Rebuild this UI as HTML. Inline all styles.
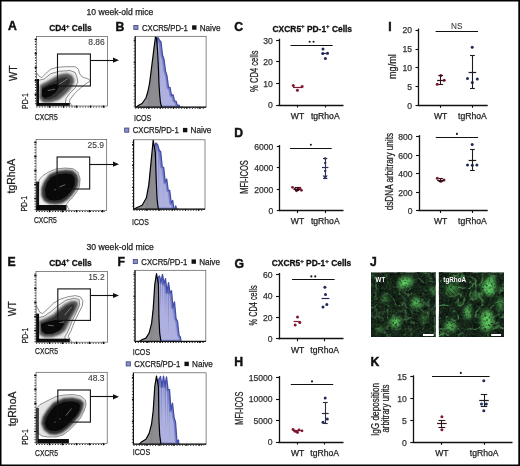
<!DOCTYPE html>
<html><head><meta charset="utf-8"><style>
html,body{margin:0;padding:0;background:#fff;width:520px;height:466px;overflow:hidden;}
svg text{font-family:"Liberation Sans", sans-serif;}
svg{will-change:transform}
</style></head><body>
<svg width="520" height="466" viewBox="0 0 520 466" style="display:block" font-family='"Liberation Sans", sans-serif'>
<defs>
<filter id="blur1" color-interpolation-filters="sRGB" x="-20%" y="-20%" width="140%" height="140%"><feGaussianBlur stdDeviation="0.6"/></filter>
<filter id="blur2" color-interpolation-filters="sRGB" x="-20%" y="-20%" width="140%" height="140%"><feGaussianBlur stdDeviation="1.0"/></filter>
<filter id="noiseG" color-interpolation-filters="sRGB" x="0" y="0" width="100%" height="100%">
 <feTurbulence type="fractalNoise" baseFrequency="0.18" numOctaves="3" seed="7" result="n"/>
 <feColorMatrix in="n" type="matrix" values="0 0 0 0 0.25  0 0 0 0 0.78  0 0 0 0 0.25  2.6 0 0 0 -1.05"/>
</filter>
<filter id="noiseG2" color-interpolation-filters="sRGB" x="0" y="0" width="100%" height="100%">
 <feTurbulence type="fractalNoise" baseFrequency="0.18" numOctaves="3" seed="19" result="n"/>
 <feColorMatrix in="n" type="matrix" values="0 0 0 0 0.25  0 0 0 0 0.78  0 0 0 0 0.25  2.6 0 0 0 -1.05"/>
</filter>
<radialGradient id="gpatch"><stop offset="0" stop-color="#4fc44f" stop-opacity="0.75"/><stop offset="1" stop-color="#3a9a3a" stop-opacity="0"/></radialGradient>
</defs>
<rect x="0" y="0" width="520" height="466" fill="#fff"/>
<text x="86.5" y="15.2" font-size="8.6" text-anchor="start" fill="#222" textLength="66.8" lengthAdjust="spacingAndGlyphs"  stroke="#222" stroke-width="0.25">10 week-old mice</text>
<text x="86.5" y="250.3" font-size="8.6" text-anchor="start" fill="#222" textLength="67.3" lengthAdjust="spacingAndGlyphs"  stroke="#222" stroke-width="0.25">30 week-old mice</text>
<text x="7.9" y="30.3" font-size="12.2" text-anchor="start" fill="#111" font-weight="bold" stroke="#111" stroke-width="0.45">A</text>
<text x="115.6" y="30.5" font-size="12.2" text-anchor="start" fill="#111" font-weight="bold" stroke="#111" stroke-width="0.45">B</text>
<text x="234.3" y="30.6" font-size="12.2" text-anchor="start" fill="#111" font-weight="bold" stroke="#111" stroke-width="0.45">C</text>
<text x="234.2" y="136.6" font-size="12.2" text-anchor="start" fill="#111" font-weight="bold" stroke="#111" stroke-width="0.45">D</text>
<text x="388.2" y="30.6" font-size="12.2" text-anchor="start" fill="#111" font-weight="bold" stroke="#111" stroke-width="0.45">I</text>
<text x="7.5" y="265.5" font-size="12.2" text-anchor="start" fill="#111" font-weight="bold" stroke="#111" stroke-width="0.45">E</text>
<text x="117.5" y="265.5" font-size="12.2" text-anchor="start" fill="#111" font-weight="bold" stroke="#111" stroke-width="0.45">F</text>
<text x="234.5" y="267.7" font-size="12.2" text-anchor="start" fill="#111" font-weight="bold" stroke="#111" stroke-width="0.45">G</text>
<text x="370.0" y="265.7" font-size="12.2" text-anchor="start" fill="#111" font-weight="bold" stroke="#111" stroke-width="0.45">J</text>
<text x="234.2" y="365.6" font-size="12.2" text-anchor="start" fill="#111" font-weight="bold" stroke="#111" stroke-width="0.45">H</text>
<text x="370.6" y="365.6" font-size="12.2" text-anchor="start" fill="#111" font-weight="bold" stroke="#111" stroke-width="0.45">K</text>
<clipPath id="clip3636"><rect x="36.4" y="36.4" width="71.1" height="69.6"/></clipPath>
<g clip-path="url(#clip3636)">
<polygon points="36.4,72.5 39.2,76.3 41.7,77.6 45.6,73.7 50.7,69.2 57.2,67.3 66.2,66.7 75.2,66.7 78.4,69.2 79.7,73.7 82.3,77.0 88.1,78.9 90.6,80.8 85.5,84.0 79.1,89.2 73.9,94.4 70.0,99.5 69.4,102.0 72.6,106.5 36.4,106.5" fill="#000" fill-opacity="0.02" stroke="#333" stroke-width="0.55" stroke-linejoin="round"/>
<polygon points="36.4,80.0 39.2,80.2 44.3,78.9 50.7,73.7 59.7,71.2 70.0,70.5 75.2,72.5 77.1,77.6 77.8,82.1 75.2,87.9 70.0,93.1 66.2,98.2 65.5,102.0 66.0,106.5 36.4,106.5" fill="#000" fill-opacity="0.05" stroke="#333" stroke-width="0.55" stroke-linejoin="round"/>
<polygon points="40.4,85.3 46.9,82.1 54.6,77.6 61.0,74.4 67.5,73.7 72.0,75.7 73.9,80.2 72.6,85.3 68.8,90.5 63.6,95.6 58.5,99.5 50.7,102.1 43.0,102.1 39.8,98.2" fill="#000" fill-opacity="0.65" stroke="#222" stroke-width="0.6" stroke-linejoin="round" filter="url(#blur2)"/>
<polygon points="42.0,87.0 48.0,84.0 55.0,80.5 62.0,77.5 67.0,77.0 70.0,79.0 70.0,83.0 66.0,88.0 61.0,93.0 56.0,97.0 50.0,99.5 44.0,99.5 41.5,96.0" fill="#000" fill-opacity="0.45" stroke="#555" stroke-width="0.4" stroke-linejoin="round" filter="url(#blur1)"/>
<polygon points="42.0,89.0 48.0,86.0 54.0,84.0 58.0,84.0 59.0,87.0 56.0,92.0 51.0,96.0 45.0,98.0 42.0,96.0" fill="#000" fill-opacity="0.8" filter="url(#blur1)"/>
<line x1="48.2" y1="90.5" x2="54.6" y2="89.2" stroke="#ccc" stroke-width="0.8" stroke-opacity="0.6" stroke-linecap="round"/>
<line x1="59.7" y1="84" x2="67.5" y2="78.9" stroke="#ccc" stroke-width="0.8" stroke-opacity="0.6" stroke-linecap="round"/>
<rect x="35.8" y="103" width="34" height="3.4" fill="#000" fill-opacity="0.95" filter="url(#blur1)"/>
<rect x="35.4" y="79" width="3.6" height="27" fill="#000" fill-opacity="0.95" filter="url(#blur1)"/>
</g>
<rect x="36.4" y="36.4" width="71.1" height="69.6" fill="none" stroke="#555" stroke-width="0.7"/>
<line x1="35.5" y1="38.4" x2="35.5" y2="106" stroke="#222" stroke-width="1.1" stroke-dasharray="1.1 1.6"/>
<line x1="36.4" y1="107.0" x2="105.5" y2="107.0" stroke="#222" stroke-width="1.1" stroke-dasharray="1.1 1.6"/>
<line x1="34.6" y1="94.5" x2="36.9" y2="94.5" stroke="#111" stroke-width="1.3"/>
<line x1="34.6" y1="80.5" x2="36.9" y2="80.5" stroke="#111" stroke-width="1.3"/>
<line x1="34.6" y1="67.5" x2="36.9" y2="67.5" stroke="#111" stroke-width="1.3"/>
<line x1="34.6" y1="53.5" x2="36.9" y2="53.5" stroke="#111" stroke-width="1.3"/>
<line x1="34.6" y1="39.5" x2="36.9" y2="39.5" stroke="#111" stroke-width="1.3"/>
<line x1="49.5" y1="105.5" x2="49.5" y2="107.8" stroke="#111" stroke-width="1.3"/>
<line x1="63.5" y1="105.5" x2="63.5" y2="107.8" stroke="#111" stroke-width="1.3"/>
<line x1="76.5" y1="105.5" x2="76.5" y2="107.8" stroke="#111" stroke-width="1.3"/>
<line x1="90.5" y1="105.5" x2="90.5" y2="107.8" stroke="#111" stroke-width="1.3"/>
<line x1="103.5" y1="105.5" x2="103.5" y2="107.8" stroke="#111" stroke-width="1.3"/>
<rect x="57.5" y="54" width="32.900000000000006" height="32" fill="none" stroke="#111" stroke-width="1.1"/>
<line x1="90.4" y1="60.5" x2="113.5" y2="60.5" stroke="#111" stroke-width="1.1"/>
<polygon points="113.0,57.6 119.0,60.2 113.0,62.8" fill="#111"/>
<text x="104.8" y="44.8" font-size="8.5" text-anchor="end" fill="#3a3a3a" stroke="#3a3a3a" stroke-width="0.1">8.86</text>
<clipPath id="clip36139"><rect x="36" y="139.4" width="70.7" height="71.1"/></clipPath>
<g clip-path="url(#clip36139)">
<polygon points="38.0,195.0 39.0,180.0 43.0,175.5 48.5,172.0 56.0,169.0 65.0,168.0 73.0,168.7 77.8,172.0 80.0,178.5 79.5,186.0 76.8,191.8 72.5,197.5 68.5,201.5 66.5,204.5 67.5,207.0 70.0,211.0 38.0,211.0" fill="#000" fill-opacity="0.05" stroke="#333" stroke-width="0.5" stroke-linejoin="round"/>
<polygon points="49.5,174.5 57.2,171.3 66.2,170.0 72.6,170.7 76.5,173.9 78.4,179.0 77.8,185.5 75.2,190.6 71.3,195.8 67.5,199.6 62.3,202.9 55.9,204.1 49.5,203.5 44.3,200.9 41.7,195.8 41.7,188.0 44.3,181.6" fill="#000" fill-opacity="0.8" stroke="#222" stroke-width="0.6" stroke-linejoin="round" filter="url(#blur2)"/>
<polygon points="51.0,177.0 58.0,174.0 66.0,173.0 72.0,174.0 75.0,178.0 75.0,185.0 72.0,190.5 67.0,196.0 61.0,200.0 55.0,201.0 49.5,200.5 45.5,197.0 44.5,190.0 46.5,183.0" fill="#000" fill-opacity="0.8" stroke="#444" stroke-width="0.4" stroke-linejoin="round" filter="url(#blur1)"/>
<line x1="59.7" y1="186.8" x2="64.9" y2="184.8" stroke="#ccc" stroke-width="0.8" stroke-opacity="0.6" stroke-linecap="round"/>
<line x1="54.6" y1="190" x2="55.5" y2="189.6" stroke="#ccc" stroke-width="0.8" stroke-opacity="0.6" stroke-linecap="round"/>
<rect x="35.5" y="205" width="31" height="5.5" fill="#000" fill-opacity="0.95" filter="url(#blur1)"/>
<rect x="35.3" y="181.6" width="3.8" height="29" fill="#000" fill-opacity="0.9" filter="url(#blur1)"/>
</g>
<rect x="36" y="139.4" width="70.7" height="71.1" fill="none" stroke="#555" stroke-width="0.7"/>
<line x1="35.1" y1="141.4" x2="35.1" y2="210.5" stroke="#222" stroke-width="1.1" stroke-dasharray="1.1 1.6"/>
<line x1="36" y1="211.5" x2="104.7" y2="211.5" stroke="#222" stroke-width="1.1" stroke-dasharray="1.1 1.6"/>
<line x1="34.2" y1="198.5" x2="36.5" y2="198.5" stroke="#111" stroke-width="1.3"/>
<line x1="34.2" y1="184.5" x2="36.5" y2="184.5" stroke="#111" stroke-width="1.3"/>
<line x1="34.2" y1="170.5" x2="36.5" y2="170.5" stroke="#111" stroke-width="1.3"/>
<line x1="34.2" y1="156.5" x2="36.5" y2="156.5" stroke="#111" stroke-width="1.3"/>
<line x1="34.2" y1="142.5" x2="36.5" y2="142.5" stroke="#111" stroke-width="1.3"/>
<line x1="49.5" y1="210.0" x2="49.5" y2="212.3" stroke="#111" stroke-width="1.3"/>
<line x1="62.5" y1="210.0" x2="62.5" y2="212.3" stroke="#111" stroke-width="1.3"/>
<line x1="76.5" y1="210.0" x2="76.5" y2="212.3" stroke="#111" stroke-width="1.3"/>
<line x1="89.5" y1="210.0" x2="89.5" y2="212.3" stroke="#111" stroke-width="1.3"/>
<line x1="102.5" y1="210.0" x2="102.5" y2="212.3" stroke="#111" stroke-width="1.3"/>
<rect x="57.1" y="157" width="32.6" height="32" fill="none" stroke="#111" stroke-width="1.1"/>
<line x1="89.7" y1="164.5" x2="113.5" y2="164.5" stroke="#111" stroke-width="1.1"/>
<polygon points="113.0,161.6 119.0,164.2 113.0,166.8" fill="#111"/>
<text x="104.0" y="147.8" font-size="8.5" text-anchor="end" fill="#3a3a3a" stroke="#3a3a3a" stroke-width="0.1">25.9</text>
<clipPath id="clip36271"><rect x="36" y="271.6" width="71.4" height="70.59999999999997"/></clipPath>
<g clip-path="url(#clip36271)">
<polygon points="36.0,305.0 37.2,307.2 39.8,312.3 42.4,313.6 46.9,309.7 53.3,303.3 59.7,299.4 67.5,296.9 75.2,295.6 80.4,296.9 82.9,300.7 82.3,305.9 79.1,312.3 75.2,320.0 72.6,326.5 70.7,331.6 68.1,336.1 70.0,339.4 72.0,342.5 36.0,342.5" fill="#000" fill-opacity="0.02" stroke="#333" stroke-width="0.55" stroke-linejoin="round"/>
<polygon points="36.0,317.5 39.2,317.5 44.3,316.2 50.7,311.7 58.5,305.2 66.2,300.1 73.9,298.2 79.1,299.4 79.7,304.6 76.5,312.3 72.6,320.0 70.0,326.5 67.5,332.3 64.9,336.8 65.5,342.5 36.0,342.5" fill="#000" fill-opacity="0.06" stroke="#333" stroke-width="0.55" stroke-linejoin="round"/>
<polygon points="39.2,321.3 45.6,318.8 53.3,314.9 58.5,309.7 64.9,304.6 71.3,301.4 76.5,301.4 77.8,304.6 75.2,311.0 71.3,317.5 68.1,323.9 64.9,330.4 59.7,334.2 52.0,336.8 44.3,336.8 39.8,334.2" fill="#000" fill-opacity="0.66" stroke="#222" stroke-width="0.6" stroke-linejoin="round" filter="url(#blur2)"/>
<polygon points="41.0,323.0 47.0,320.5 54.0,317.0 60.0,311.5 66.0,306.5 71.5,304.0 74.5,304.5 74.0,309.0 70.0,315.5 66.5,322.0 63.0,328.5 58.5,332.0 52.0,334.5 45.0,334.5 41.5,332.0" fill="#000" fill-opacity="0.4" stroke="#555" stroke-width="0.4" stroke-linejoin="round" filter="url(#blur1)"/>
<polygon points="41.0,324.0 47.0,322.0 55.0,320.0 62.0,320.0 64.0,324.0 60.0,330.0 53.0,333.5 46.0,334.0 41.5,331.0" fill="#000" fill-opacity="0.8" filter="url(#blur1)"/>
<line x1="59.7" y1="322.6" x2="63.6" y2="322" stroke="#ccc" stroke-width="0.8" stroke-opacity="0.6" stroke-linecap="round"/>
<line x1="48.2" y1="325.2" x2="53.3" y2="325.8" stroke="#ccc" stroke-width="0.8" stroke-opacity="0.6" stroke-linecap="round"/>
<line x1="64.9" y1="314.9" x2="71.3" y2="307.2" stroke="#ccc" stroke-width="0.8" stroke-opacity="0.6" stroke-linecap="round"/>
<rect x="35.8" y="338.7" width="34" height="3.6" fill="#000" fill-opacity="0.95" filter="url(#blur1)"/>
<rect x="35.3" y="313.6" width="3.8" height="29" fill="#000" fill-opacity="0.95" filter="url(#blur1)"/>
</g>
<rect x="36" y="271.6" width="71.4" height="70.59999999999997" fill="none" stroke="#555" stroke-width="0.7"/>
<line x1="35.1" y1="273.6" x2="35.1" y2="342.2" stroke="#222" stroke-width="1.1" stroke-dasharray="1.1 1.6"/>
<line x1="36" y1="343.2" x2="105.4" y2="343.2" stroke="#222" stroke-width="1.1" stroke-dasharray="1.1 1.6"/>
<line x1="34.2" y1="330.5" x2="36.5" y2="330.5" stroke="#111" stroke-width="1.3"/>
<line x1="34.2" y1="316.5" x2="36.5" y2="316.5" stroke="#111" stroke-width="1.3"/>
<line x1="34.2" y1="302.5" x2="36.5" y2="302.5" stroke="#111" stroke-width="1.3"/>
<line x1="34.2" y1="288.5" x2="36.5" y2="288.5" stroke="#111" stroke-width="1.3"/>
<line x1="34.2" y1="275.5" x2="36.5" y2="275.5" stroke="#111" stroke-width="1.3"/>
<line x1="49.5" y1="341.7" x2="49.5" y2="344.0" stroke="#111" stroke-width="1.3"/>
<line x1="62.5" y1="341.7" x2="62.5" y2="344.0" stroke="#111" stroke-width="1.3"/>
<line x1="76.5" y1="341.7" x2="76.5" y2="344.0" stroke="#111" stroke-width="1.3"/>
<line x1="89.5" y1="341.7" x2="89.5" y2="344.0" stroke="#111" stroke-width="1.3"/>
<line x1="103.5" y1="341.7" x2="103.5" y2="344.0" stroke="#111" stroke-width="1.3"/>
<rect x="57.8" y="288.9" width="32.60000000000001" height="31.5" fill="none" stroke="#111" stroke-width="1.1"/>
<line x1="90.4" y1="295.5" x2="113.5" y2="295.5" stroke="#111" stroke-width="1.1"/>
<polygon points="113.0,292.9 119.0,295.5 113.0,298.1" fill="#111"/>
<text x="104.7" y="280.0" font-size="8.5" text-anchor="end" fill="#3a3a3a" stroke="#3a3a3a" stroke-width="0.1">15.2</text>
<clipPath id="clip36372"><rect x="36" y="372.3" width="71.2" height="71.19999999999999"/></clipPath>
<g clip-path="url(#clip36372)">
<polygon points="36.5,408.0 40.0,404.5 46.0,401.5 50.0,399.5 56.0,396.5 64.0,395.0 73.0,394.5 81.0,396.0 85.5,400.0 86.0,405.0 84.0,411.0 80.5,418.0 75.0,424.5 69.5,430.0 63.0,435.0 56.0,437.0 48.0,437.0 42.0,436.0 38.0,433.0 36.5,428.0" fill="#000" fill-opacity="0.1" stroke="#333" stroke-width="0.5" stroke-linejoin="round"/>
<polygon points="53.3,403.0 63.6,398.5 72.6,397.9 80.4,399.8 83.6,403.0 82.3,409.5 79.1,415.9 73.9,422.3 68.8,427.5 62.3,432.6 55.9,434.6 49.5,433.9 44.3,430.1 41.7,423.6 43.0,417.2 46.9,410.8" fill="#000" fill-opacity="0.8" stroke="#222" stroke-width="0.6" stroke-linejoin="round" filter="url(#blur2)"/>
<polygon points="55.0,405.5 64.0,401.5 72.0,401.0 79.0,402.5 80.5,405.5 79.5,410.5 76.5,415.5 71.5,421.0 66.5,426.0 61.0,430.0 55.5,431.5 50.0,431.0 46.0,428.0 44.5,423.0 46.0,418.0 49.5,412.0" fill="#000" fill-opacity="0.8" stroke="#444" stroke-width="0.4" stroke-linejoin="round" filter="url(#blur1)"/>
<line x1="66.2" y1="415.3" x2="71.3" y2="408.8" stroke="#ccc" stroke-width="0.8" stroke-opacity="0.6" stroke-linecap="round"/>
<line x1="59.7" y1="419.1" x2="60.3" y2="418.9" stroke="#ccc" stroke-width="0.8" stroke-opacity="0.6" stroke-linecap="round"/>
<line x1="54.6" y1="422.3" x2="55.2" y2="422" stroke="#ccc" stroke-width="0.8" stroke-opacity="0.6" stroke-linecap="round"/>
<rect x="37.9" y="439" width="31" height="4.5" fill="#000" fill-opacity="0.95" filter="url(#blur1)"/>
<rect x="35.5" y="408" width="3.4" height="36" fill="#000" fill-opacity="0.75" filter="url(#blur1)"/>
</g>
<rect x="36" y="372.3" width="71.2" height="71.19999999999999" fill="none" stroke="#555" stroke-width="0.7"/>
<line x1="35.1" y1="374.3" x2="35.1" y2="443.5" stroke="#222" stroke-width="1.1" stroke-dasharray="1.1 1.6"/>
<line x1="36" y1="444.5" x2="105.2" y2="444.5" stroke="#222" stroke-width="1.1" stroke-dasharray="1.1 1.6"/>
<line x1="34.2" y1="431.5" x2="36.5" y2="431.5" stroke="#111" stroke-width="1.3"/>
<line x1="34.2" y1="417.5" x2="36.5" y2="417.5" stroke="#111" stroke-width="1.3"/>
<line x1="34.2" y1="403.5" x2="36.5" y2="403.5" stroke="#111" stroke-width="1.3"/>
<line x1="34.2" y1="389.5" x2="36.5" y2="389.5" stroke="#111" stroke-width="1.3"/>
<line x1="34.2" y1="375.5" x2="36.5" y2="375.5" stroke="#111" stroke-width="1.3"/>
<line x1="49.5" y1="443.0" x2="49.5" y2="445.3" stroke="#111" stroke-width="1.3"/>
<line x1="62.5" y1="443.0" x2="62.5" y2="445.3" stroke="#111" stroke-width="1.3"/>
<line x1="76.5" y1="443.0" x2="76.5" y2="445.3" stroke="#111" stroke-width="1.3"/>
<line x1="89.5" y1="443.0" x2="89.5" y2="445.3" stroke="#111" stroke-width="1.3"/>
<line x1="103.5" y1="443.0" x2="103.5" y2="445.3" stroke="#111" stroke-width="1.3"/>
<rect x="57.8" y="390" width="32.60000000000001" height="32.10000000000002" fill="none" stroke="#111" stroke-width="1.1"/>
<line x1="90.4" y1="396.5" x2="113.5" y2="396.5" stroke="#111" stroke-width="1.1"/>
<polygon points="113.0,394.2 119.0,396.8 113.0,399.4" fill="#111"/>
<text x="104.5" y="380.7" font-size="8.5" text-anchor="end" fill="#3a3a3a" stroke="#3a3a3a" stroke-width="0.1">48.3</text>
<text x="49.2" y="30.7" font-size="8.8" font-weight="bold" fill="#111" stroke="#111" stroke-width="0.3" textLength="42.5" lengthAdjust="spacingAndGlyphs">CD4<tspan font-size="6.2" dy="-3.2">+</tspan><tspan dy="3.2"> Cells</tspan></text>
<text x="16.5" y="73.25" font-size="10.2" text-anchor="middle" fill="#222" textLength="15.3" lengthAdjust="spacingAndGlyphs" transform="rotate(-90 16.5 73.25)"  stroke="#222" stroke-width="0.25">WT</text>
<text x="28.4" y="101.1" font-size="8.8" text-anchor="middle" fill="#222" textLength="15.6" lengthAdjust="spacingAndGlyphs" transform="rotate(-90 28.4 101.1)"  stroke="#222" stroke-width="0.25">PD-1</text>
<text x="34.8" y="119.6" font-size="9.4" text-anchor="start" fill="#222" textLength="22.9" lengthAdjust="spacingAndGlyphs"  stroke="#222" stroke-width="0.25">CXCR5</text>
<text x="15.4" y="176.1" font-size="10.2" text-anchor="middle" fill="#222" textLength="34.6" lengthAdjust="spacingAndGlyphs" transform="rotate(-90 15.4 176.1)"  stroke="#222" stroke-width="0.25">tgRhoA</text>
<text x="27.0" y="203.8" font-size="8.8" text-anchor="middle" fill="#222" textLength="15.6" lengthAdjust="spacingAndGlyphs" transform="rotate(-90 27.0 203.8)"  stroke="#222" stroke-width="0.25">PD-1</text>
<text x="33.9" y="223.2" font-size="9.4" text-anchor="start" fill="#222" textLength="22.9" lengthAdjust="spacingAndGlyphs"  stroke="#222" stroke-width="0.25">CXCR5</text>
<text x="49.2" y="265.6" font-size="8.8" font-weight="bold" fill="#111" stroke="#111" stroke-width="0.3" textLength="42.5" lengthAdjust="spacingAndGlyphs">CD4<tspan font-size="6.2" dy="-3.2">+</tspan><tspan dy="3.2"> Cells</tspan></text>
<text x="16.2" y="308.8" font-size="10.2" text-anchor="middle" fill="#222" textLength="15.0" lengthAdjust="spacingAndGlyphs" transform="rotate(-90 16.2 308.8)"  stroke="#222" stroke-width="0.25">WT</text>
<text x="27.8" y="335.5" font-size="8.8" text-anchor="middle" fill="#222" textLength="15.6" lengthAdjust="spacingAndGlyphs" transform="rotate(-90 27.8 335.5)"  stroke="#222" stroke-width="0.25">PD-1</text>
<text x="35" y="354.2" font-size="9.4" text-anchor="start" fill="#222" textLength="22.9" lengthAdjust="spacingAndGlyphs"  stroke="#222" stroke-width="0.25">CXCR5</text>
<text x="15.5" y="409.0" font-size="10.2" text-anchor="middle" fill="#222" textLength="34.7" lengthAdjust="spacingAndGlyphs" transform="rotate(-90 15.5 409.0)"  stroke="#222" stroke-width="0.25">tgRhoA</text>
<text x="27.5" y="437.0" font-size="8.8" text-anchor="middle" fill="#222" textLength="15.6" lengthAdjust="spacingAndGlyphs" transform="rotate(-90 27.5 437.0)"  stroke="#222" stroke-width="0.25">PD-1</text>
<text x="35" y="456.1" font-size="9.4" text-anchor="start" fill="#222" textLength="22.9" lengthAdjust="spacingAndGlyphs"  stroke="#222" stroke-width="0.25">CXCR5</text>
<clipPath id="hclip13536"><rect x="135.2" y="36.3" width="70.9" height="70.9"/></clipPath>
<g clip-path="url(#hclip13536)">
<clipPath id="bclip13536"><polygon points="148.0,107.5 149.0,95.0 151.0,80.0 153.0,62.0 155.0,48.0 157.0,40.0 158.0,37.5 159.5,40.3 161.0,42.0 162.5,55.2 164.0,59.3 165.5,71.1 167.0,76.0 168.5,87.6 170.0,87.3 171.5,95.5 173.0,94.7 174.5,100.9 176.0,101.2 177.5,105.9 179.0,105.0 180.5,111.5 182.0,106.9 183.0,107.5"/></clipPath>
<polygon points="148.0,107.5 149.0,95.0 151.0,80.0 153.0,62.0 155.0,48.0 157.0,40.0 158.0,37.5 159.5,40.3 161.0,42.0 162.5,55.2 164.0,59.3 165.5,71.1 167.0,76.0 168.5,87.6 170.0,87.3 171.5,95.5 173.0,94.7 174.5,100.9 176.0,101.2 177.5,105.9 179.0,105.0 180.5,111.5 182.0,106.9 183.0,107.5" fill="#aeb1df" stroke="#3e49a6" stroke-width="1.3" stroke-linejoin="round"/>
<polygon points="148.0,107.5 149.0,95.0 151.0,80.0 153.0,62.0 155.0,48.0 157.0,40.0 158.0,37.5 159.5,40.3 161.0,42.0 162.5,55.2 164.0,59.3 165.5,71.1 167.0,76.0 168.5,87.6 170.0,87.3 171.5,95.5 173.0,94.7 174.5,100.9 176.0,101.2 177.5,105.9 179.0,105.0 180.5,111.5 182.0,106.9 183.0,107.5" fill="none" stroke="#5560b4" stroke-width="4" stroke-opacity="0.55" stroke-linejoin="round" clip-path="url(#bclip13536)"/>
<linearGradient id="sg13536" x1="0" y1="0" x2="0" y2="1"><stop offset="0" stop-color="#3c46a0" stop-opacity="0.5"/><stop offset="1" stop-color="#3c46a0" stop-opacity="0"/></linearGradient>
<g clip-path="url(#bclip13536)">
<rect x="152.0" y="37.5" width="0.8" height="55.4" fill="url(#sg13536)"/>
<rect x="154.0" y="37.5" width="0.8" height="66.1" fill="url(#sg13536)"/>
<rect x="155.6" y="37.5" width="0.8" height="56.4" fill="url(#sg13536)"/>
<rect x="157.2" y="37.5" width="0.8" height="49.8" fill="url(#sg13536)"/>
<rect x="159.4" y="37.5" width="0.8" height="68.5" fill="url(#sg13536)"/>
<rect x="161.7" y="37.5" width="0.8" height="45.3" fill="url(#sg13536)"/>
<rect x="163.5" y="37.5" width="0.8" height="35.9" fill="url(#sg13536)"/>
<rect x="165.8" y="37.5" width="0.8" height="42.6" fill="url(#sg13536)"/>
<rect x="167.4" y="37.5" width="0.8" height="39.8" fill="url(#sg13536)"/>
<rect x="168.9" y="37.5" width="0.8" height="54.1" fill="url(#sg13536)"/>
<rect x="170.7" y="37.5" width="0.8" height="58.7" fill="url(#sg13536)"/>
<rect x="172.8" y="37.5" width="0.8" height="65.3" fill="url(#sg13536)"/>
<rect x="174.7" y="37.5" width="0.8" height="41.5" fill="url(#sg13536)"/>
<rect x="177.0" y="37.5" width="0.8" height="52.4" fill="url(#sg13536)"/>
<rect x="179.0" y="37.5" width="0.8" height="59.0" fill="url(#sg13536)"/>
<rect x="180.7" y="37.5" width="0.8" height="35.1" fill="url(#sg13536)"/>
<rect x="182.5" y="37.5" width="0.8" height="59.9" fill="url(#sg13536)"/>
</g>
<polygon points="136.0,107.5 138.3,105.5 142.0,103.5 146.0,98.0 148.0,91.0 149.5,83.5 151.0,72.0 152.5,60.0 154.0,48.0 155.5,36.6 156.5,38.0 157.5,50.0 158.5,70.0 158.9,83.0 159.7,95.0 160.5,103.0 161.8,107.5" fill="#8a8a8a" fill-opacity="0.92" stroke="#000" stroke-width="1.2" stroke-linejoin="round"/>
</g>
<rect x="135.2" y="36.3" width="70.9" height="70.9" fill="none" stroke="#555" stroke-width="0.7"/>
<polyline points="135.2,36.3 135.2,107.2 206.1,107.2" fill="none" stroke="#111" stroke-width="1.2"/>
<line x1="135.2" y1="108.3" x2="204.1" y2="108.3" stroke="#222" stroke-width="1.1" stroke-dasharray="1.1 1.6"/>
<line x1="134.2" y1="38.3" x2="134.2" y2="107.2" stroke="#333" stroke-width="0.9" stroke-dasharray="1.0 2.2"/>
<line x1="133.7" y1="85.5" x2="135.2" y2="85.5" stroke="#111" stroke-width="1.1"/>
<line x1="133.7" y1="62.5" x2="135.2" y2="62.5" stroke="#111" stroke-width="1.1"/>
<line x1="133.7" y1="40.5" x2="135.2" y2="40.5" stroke="#111" stroke-width="1.1"/>
<line x1="148.5" y1="107.2" x2="148.5" y2="108.7" stroke="#111" stroke-width="1.1"/>
<line x1="160.5" y1="107.2" x2="160.5" y2="108.7" stroke="#111" stroke-width="1.1"/>
<line x1="173.5" y1="107.2" x2="173.5" y2="108.7" stroke="#111" stroke-width="1.1"/>
<line x1="186.5" y1="107.2" x2="186.5" y2="108.7" stroke="#111" stroke-width="1.1"/>
<line x1="199.5" y1="107.2" x2="199.5" y2="108.7" stroke="#111" stroke-width="1.1"/>
<rect x="133.8" y="25.4" width="4.2" height="4.2" fill="#8a8ec6" stroke="#2d3570" stroke-width="0.7"/>
<text x="141.9" y="30.5" font-size="8.3" text-anchor="start" fill="#222" textLength="46" lengthAdjust="spacingAndGlyphs"  stroke="#222" stroke-width="0.25">CXCR5/PD-1</text>
<rect x="192.10000000000002" y="25.3" width="4.4" height="4.4" fill="#111"/>
<text x="199.7" y="30.5" font-size="8.3" text-anchor="start" fill="#222" textLength="20.8" lengthAdjust="spacingAndGlyphs"  stroke="#222" stroke-width="0.25">Naive</text>
<text x="134" y="120.7" font-size="9.3" text-anchor="start" fill="#222" textLength="17.3" lengthAdjust="spacingAndGlyphs"  stroke="#222" stroke-width="0.25">ICOS</text>
<clipPath id="hclip133139"><rect x="133.6" y="139.8" width="71.4" height="69.39999999999998"/></clipPath>
<g clip-path="url(#hclip133139)">
<clipPath id="bclip133139"><polygon points="146.0,209.5 148.0,195.0 150.0,178.0 152.0,160.0 154.0,148.0 156.0,143.0 157.7,145.0 159.2,150.2 160.7,151.8 162.2,166.8 163.7,167.6 165.2,182.3 166.7,179.0 168.2,190.5 169.7,190.4 171.2,203.2 172.7,200.5 174.2,211.4 175.7,205.9 177.2,211.0 178.7,209.2 179.0,209.5"/></clipPath>
<polygon points="146.0,209.5 148.0,195.0 150.0,178.0 152.0,160.0 154.0,148.0 156.0,143.0 157.7,145.0 159.2,150.2 160.7,151.8 162.2,166.8 163.7,167.6 165.2,182.3 166.7,179.0 168.2,190.5 169.7,190.4 171.2,203.2 172.7,200.5 174.2,211.4 175.7,205.9 177.2,211.0 178.7,209.2 179.0,209.5" fill="#aeb1df" stroke="#3e49a6" stroke-width="1.3" stroke-linejoin="round"/>
<polygon points="146.0,209.5 148.0,195.0 150.0,178.0 152.0,160.0 154.0,148.0 156.0,143.0 157.7,145.0 159.2,150.2 160.7,151.8 162.2,166.8 163.7,167.6 165.2,182.3 166.7,179.0 168.2,190.5 169.7,190.4 171.2,203.2 172.7,200.5 174.2,211.4 175.7,205.9 177.2,211.0 178.7,209.2 179.0,209.5" fill="none" stroke="#5560b4" stroke-width="4" stroke-opacity="0.55" stroke-linejoin="round" clip-path="url(#bclip133139)"/>
<linearGradient id="sg133139" x1="0" y1="0" x2="0" y2="1"><stop offset="0" stop-color="#3c46a0" stop-opacity="0.5"/><stop offset="1" stop-color="#3c46a0" stop-opacity="0"/></linearGradient>
<g clip-path="url(#bclip133139)">
<rect x="150.0" y="143.0" width="0.8" height="36.8" fill="url(#sg133139)"/>
<rect x="152.0" y="143.0" width="0.8" height="45.6" fill="url(#sg133139)"/>
<rect x="153.8" y="143.0" width="0.8" height="39.6" fill="url(#sg133139)"/>
<rect x="156.1" y="143.0" width="0.8" height="42.6" fill="url(#sg133139)"/>
<rect x="158.1" y="143.0" width="0.8" height="65.3" fill="url(#sg133139)"/>
<rect x="159.6" y="143.0" width="0.8" height="56.1" fill="url(#sg133139)"/>
<rect x="161.2" y="143.0" width="0.8" height="40.3" fill="url(#sg133139)"/>
<rect x="162.9" y="143.0" width="0.8" height="65.0" fill="url(#sg133139)"/>
<rect x="165.0" y="143.0" width="0.8" height="41.6" fill="url(#sg133139)"/>
<rect x="167.1" y="143.0" width="0.8" height="47.7" fill="url(#sg133139)"/>
<rect x="168.9" y="143.0" width="0.8" height="36.4" fill="url(#sg133139)"/>
<rect x="170.8" y="143.0" width="0.8" height="55.6" fill="url(#sg133139)"/>
<rect x="172.3" y="143.0" width="0.8" height="48.3" fill="url(#sg133139)"/>
<rect x="174.0" y="143.0" width="0.8" height="49.0" fill="url(#sg133139)"/>
<rect x="175.8" y="143.0" width="0.8" height="45.0" fill="url(#sg133139)"/>
<rect x="177.3" y="143.0" width="0.8" height="59.8" fill="url(#sg133139)"/>
<rect x="178.8" y="143.0" width="0.8" height="63.9" fill="url(#sg133139)"/>
</g>
<polygon points="133.6,209.5 136.5,207.7 142.2,205.3 146.3,198.0 148.8,184.9 150.4,168.6 152.0,152.3 153.2,140.1 155.3,152.3 156.1,176.8 156.9,196.3 157.6,204.0 158.5,209.5" fill="#8a8a8a" fill-opacity="0.92" stroke="#000" stroke-width="1.2" stroke-linejoin="round"/>
</g>
<rect x="133.6" y="139.8" width="71.4" height="69.39999999999998" fill="none" stroke="#555" stroke-width="0.7"/>
<polyline points="133.6,139.8 133.6,209.2 205,209.2" fill="none" stroke="#111" stroke-width="1.2"/>
<line x1="133.6" y1="210.29999999999998" x2="203" y2="210.29999999999998" stroke="#222" stroke-width="1.1" stroke-dasharray="1.1 1.6"/>
<line x1="132.6" y1="141.8" x2="132.6" y2="209.2" stroke="#333" stroke-width="0.9" stroke-dasharray="1.0 2.2"/>
<line x1="132.1" y1="187.5" x2="133.6" y2="187.5" stroke="#111" stroke-width="1.1"/>
<line x1="132.1" y1="165.5" x2="133.6" y2="165.5" stroke="#111" stroke-width="1.1"/>
<line x1="132.1" y1="144.5" x2="133.6" y2="144.5" stroke="#111" stroke-width="1.1"/>
<line x1="146.5" y1="209.2" x2="146.5" y2="210.7" stroke="#111" stroke-width="1.1"/>
<line x1="159.5" y1="209.2" x2="159.5" y2="210.7" stroke="#111" stroke-width="1.1"/>
<line x1="172.5" y1="209.2" x2="172.5" y2="210.7" stroke="#111" stroke-width="1.1"/>
<line x1="185.5" y1="209.2" x2="185.5" y2="210.7" stroke="#111" stroke-width="1.1"/>
<line x1="198.5" y1="209.2" x2="198.5" y2="210.7" stroke="#111" stroke-width="1.1"/>
<rect x="124.65" y="128.0" width="4.2" height="4.2" fill="#8a8ec6" stroke="#2d3570" stroke-width="0.7"/>
<text x="132.75" y="133.1" font-size="8.3" text-anchor="start" fill="#222" textLength="46" lengthAdjust="spacingAndGlyphs"  stroke="#222" stroke-width="0.25">CXCR5/PD-1</text>
<rect x="182.95" y="127.89999999999999" width="4.4" height="4.4" fill="#111"/>
<text x="190.55" y="133.1" font-size="8.3" text-anchor="start" fill="#222" textLength="20.8" lengthAdjust="spacingAndGlyphs"  stroke="#222" stroke-width="0.25">Naive</text>
<text x="132" y="224.5" font-size="9.3" text-anchor="start" fill="#222" textLength="16.8" lengthAdjust="spacingAndGlyphs"  stroke="#222" stroke-width="0.25">ICOS</text>
<clipPath id="hclip135270"><rect x="135" y="270.3" width="70.80000000000001" height="71.09999999999997"/></clipPath>
<g clip-path="url(#hclip135270)">
<clipPath id="bclip135270"><polygon points="150.0,341.8 152.0,330.0 154.0,305.0 156.0,285.0 158.0,278.0 159.5,276.0 161.0,282.1 162.5,274.4 164.0,283.9 165.5,278.7 167.0,292.3 168.5,282.6 170.0,292.8 171.5,290.8 173.0,307.5 174.5,301.9 176.0,318.6 177.5,321.4 179.0,335.1 180.5,337.3 182.0,351.7 182.5,341.8"/></clipPath>
<polygon points="150.0,341.8 152.0,330.0 154.0,305.0 156.0,285.0 158.0,278.0 159.5,276.0 161.0,282.1 162.5,274.4 164.0,283.9 165.5,278.7 167.0,292.3 168.5,282.6 170.0,292.8 171.5,290.8 173.0,307.5 174.5,301.9 176.0,318.6 177.5,321.4 179.0,335.1 180.5,337.3 182.0,351.7 182.5,341.8" fill="#aeb1df" stroke="#3e49a6" stroke-width="1.3" stroke-linejoin="round"/>
<polygon points="150.0,341.8 152.0,330.0 154.0,305.0 156.0,285.0 158.0,278.0 159.5,276.0 161.0,282.1 162.5,274.4 164.0,283.9 165.5,278.7 167.0,292.3 168.5,282.6 170.0,292.8 171.5,290.8 173.0,307.5 174.5,301.9 176.0,318.6 177.5,321.4 179.0,335.1 180.5,337.3 182.0,351.7 182.5,341.8" fill="none" stroke="#5560b4" stroke-width="4" stroke-opacity="0.55" stroke-linejoin="round" clip-path="url(#bclip135270)"/>
<linearGradient id="sg135270" x1="0" y1="0" x2="0" y2="1"><stop offset="0" stop-color="#3c46a0" stop-opacity="0.75"/><stop offset="1" stop-color="#3c46a0" stop-opacity="0"/></linearGradient>
<g clip-path="url(#bclip135270)">
<rect x="154.0" y="274.4" width="0.8" height="64.0" fill="url(#sg135270)"/>
<rect x="155.6" y="274.4" width="0.8" height="58.3" fill="url(#sg135270)"/>
<rect x="157.9" y="274.4" width="0.8" height="52.8" fill="url(#sg135270)"/>
<rect x="160.1" y="274.4" width="0.8" height="37.5" fill="url(#sg135270)"/>
<rect x="162.3" y="274.4" width="0.8" height="34.0" fill="url(#sg135270)"/>
<rect x="164.6" y="274.4" width="0.8" height="44.4" fill="url(#sg135270)"/>
<rect x="166.4" y="274.4" width="0.8" height="43.2" fill="url(#sg135270)"/>
<rect x="168.1" y="274.4" width="0.8" height="61.5" fill="url(#sg135270)"/>
<rect x="169.7" y="274.4" width="0.8" height="42.8" fill="url(#sg135270)"/>
<rect x="171.9" y="274.4" width="0.8" height="50.8" fill="url(#sg135270)"/>
<rect x="173.5" y="274.4" width="0.8" height="50.3" fill="url(#sg135270)"/>
<rect x="175.1" y="274.4" width="0.8" height="61.2" fill="url(#sg135270)"/>
<rect x="176.7" y="274.4" width="0.8" height="54.2" fill="url(#sg135270)"/>
<rect x="178.9" y="274.4" width="0.8" height="59.8" fill="url(#sg135270)"/>
<rect x="181.1" y="274.4" width="0.8" height="34.9" fill="url(#sg135270)"/>
</g>
<polygon points="139.0,341.8 141.8,339.7 145.9,338.1 149.1,333.2 151.6,323.4 153.2,308.8 154.8,284.3 156.5,273.7 158.4,284.3 158.9,316.9 159.7,333.2 161.0,341.8" fill="#8a8a8a" fill-opacity="0.92" stroke="#000" stroke-width="1.2" stroke-linejoin="round"/>
</g>
<rect x="135" y="270.3" width="70.80000000000001" height="71.09999999999997" fill="none" stroke="#555" stroke-width="0.7"/>
<polyline points="135,270.3 135,341.4 205.8,341.4" fill="none" stroke="#111" stroke-width="1.2"/>
<line x1="135" y1="342.5" x2="203.8" y2="342.5" stroke="#222" stroke-width="1.1" stroke-dasharray="1.1 1.6"/>
<line x1="134" y1="272.3" x2="134" y2="341.4" stroke="#333" stroke-width="0.9" stroke-dasharray="1.0 2.2"/>
<line x1="133.5" y1="319.5" x2="135" y2="319.5" stroke="#111" stroke-width="1.1"/>
<line x1="133.5" y1="296.5" x2="135" y2="296.5" stroke="#111" stroke-width="1.1"/>
<line x1="133.5" y1="274.5" x2="135" y2="274.5" stroke="#111" stroke-width="1.1"/>
<line x1="147.5" y1="341.4" x2="147.5" y2="342.9" stroke="#111" stroke-width="1.1"/>
<line x1="160.5" y1="341.4" x2="160.5" y2="342.9" stroke="#111" stroke-width="1.1"/>
<line x1="173.5" y1="341.4" x2="173.5" y2="342.9" stroke="#111" stroke-width="1.1"/>
<line x1="186.5" y1="341.4" x2="186.5" y2="342.9" stroke="#111" stroke-width="1.1"/>
<line x1="199.5" y1="341.4" x2="199.5" y2="342.9" stroke="#111" stroke-width="1.1"/>
<rect x="133.25" y="259.5" width="4.2" height="4.2" fill="#8a8ec6" stroke="#2d3570" stroke-width="0.7"/>
<text x="141.35" y="264.6" font-size="8.3" text-anchor="start" fill="#222" textLength="46" lengthAdjust="spacingAndGlyphs"  stroke="#222" stroke-width="0.25">CXCR5/PD-1</text>
<rect x="191.55" y="259.40000000000003" width="4.4" height="4.4" fill="#111"/>
<text x="199.14999999999998" y="264.6" font-size="8.3" text-anchor="start" fill="#222" textLength="20.8" lengthAdjust="spacingAndGlyphs"  stroke="#222" stroke-width="0.25">Naive</text>
<text x="132.8" y="355" font-size="9.3" text-anchor="start" fill="#222" textLength="17.3" lengthAdjust="spacingAndGlyphs"  stroke="#222" stroke-width="0.25">ICOS</text>
<clipPath id="hclip133372"><rect x="133.4" y="372.8" width="72.69999999999999" height="71.39999999999998"/></clipPath>
<g clip-path="url(#hclip133372)">
<clipPath id="bclip133372"><polygon points="150.0,444.5 152.0,430.0 154.0,410.0 156.0,390.0 158.5,380.0 160.5,376.5 162.0,386.3 163.5,376.2 165.0,385.9 166.5,376.9 168.0,389.5 169.5,389.7 171.0,410.3 172.5,403.2 174.0,417.1 175.5,422.1 177.0,442.6 178.5,440.0 180.0,458.6 180.0,444.5"/></clipPath>
<polygon points="150.0,444.5 152.0,430.0 154.0,410.0 156.0,390.0 158.5,380.0 160.5,376.5 162.0,386.3 163.5,376.2 165.0,385.9 166.5,376.9 168.0,389.5 169.5,389.7 171.0,410.3 172.5,403.2 174.0,417.1 175.5,422.1 177.0,442.6 178.5,440.0 180.0,458.6 180.0,444.5" fill="#aeb1df" stroke="#3e49a6" stroke-width="1.3" stroke-linejoin="round"/>
<polygon points="150.0,444.5 152.0,430.0 154.0,410.0 156.0,390.0 158.5,380.0 160.5,376.5 162.0,386.3 163.5,376.2 165.0,385.9 166.5,376.9 168.0,389.5 169.5,389.7 171.0,410.3 172.5,403.2 174.0,417.1 175.5,422.1 177.0,442.6 178.5,440.0 180.0,458.6 180.0,444.5" fill="none" stroke="#5560b4" stroke-width="4" stroke-opacity="0.55" stroke-linejoin="round" clip-path="url(#bclip133372)"/>
<linearGradient id="sg133372" x1="0" y1="0" x2="0" y2="1"><stop offset="0" stop-color="#3c46a0" stop-opacity="0.75"/><stop offset="1" stop-color="#3c46a0" stop-opacity="0"/></linearGradient>
<g clip-path="url(#bclip133372)">
<rect x="154.0" y="376.2" width="0.8" height="49.3" fill="url(#sg133372)"/>
<rect x="155.9" y="376.2" width="0.8" height="34.2" fill="url(#sg133372)"/>
<rect x="157.6" y="376.2" width="0.8" height="59.2" fill="url(#sg133372)"/>
<rect x="159.4" y="376.2" width="0.8" height="48.5" fill="url(#sg133372)"/>
<rect x="161.3" y="376.2" width="0.8" height="52.9" fill="url(#sg133372)"/>
<rect x="163.6" y="376.2" width="0.8" height="36.3" fill="url(#sg133372)"/>
<rect x="165.1" y="376.2" width="0.8" height="56.6" fill="url(#sg133372)"/>
<rect x="167.2" y="376.2" width="0.8" height="53.8" fill="url(#sg133372)"/>
<rect x="168.8" y="376.2" width="0.8" height="65.3" fill="url(#sg133372)"/>
<rect x="170.5" y="376.2" width="0.8" height="48.1" fill="url(#sg133372)"/>
<rect x="172.0" y="376.2" width="0.8" height="36.7" fill="url(#sg133372)"/>
<rect x="173.7" y="376.2" width="0.8" height="60.5" fill="url(#sg133372)"/>
<rect x="175.3" y="376.2" width="0.8" height="65.9" fill="url(#sg133372)"/>
<rect x="176.9" y="376.2" width="0.8" height="54.7" fill="url(#sg133372)"/>
<rect x="178.5" y="376.2" width="0.8" height="52.2" fill="url(#sg133372)"/>
</g>
<polygon points="139.0,444.5 141.8,441.7 145.9,439.3 149.1,433.6 151.6,423.8 153.2,410.8 154.8,386.3 156.5,376.2 158.4,386.3 158.9,418.9 159.7,435.2 161.0,444.5" fill="#8a8a8a" fill-opacity="0.92" stroke="#000" stroke-width="1.2" stroke-linejoin="round"/>
</g>
<rect x="133.4" y="372.8" width="72.69999999999999" height="71.39999999999998" fill="none" stroke="#555" stroke-width="0.7"/>
<polyline points="133.4,372.8 133.4,444.2 206.1,444.2" fill="none" stroke="#111" stroke-width="1.2"/>
<line x1="133.4" y1="445.3" x2="204.1" y2="445.3" stroke="#222" stroke-width="1.1" stroke-dasharray="1.1 1.6"/>
<line x1="132.4" y1="374.8" x2="132.4" y2="444.2" stroke="#333" stroke-width="0.9" stroke-dasharray="1.0 2.2"/>
<line x1="131.9" y1="421.5" x2="133.4" y2="421.5" stroke="#111" stroke-width="1.1"/>
<line x1="131.9" y1="399.5" x2="133.4" y2="399.5" stroke="#111" stroke-width="1.1"/>
<line x1="131.9" y1="377.5" x2="133.4" y2="377.5" stroke="#111" stroke-width="1.1"/>
<line x1="146.5" y1="444.2" x2="146.5" y2="445.7" stroke="#111" stroke-width="1.1"/>
<line x1="159.5" y1="444.2" x2="159.5" y2="445.7" stroke="#111" stroke-width="1.1"/>
<line x1="173.5" y1="444.2" x2="173.5" y2="445.7" stroke="#111" stroke-width="1.1"/>
<line x1="186.5" y1="444.2" x2="186.5" y2="445.7" stroke="#111" stroke-width="1.1"/>
<line x1="199.5" y1="444.2" x2="199.5" y2="445.7" stroke="#111" stroke-width="1.1"/>
<rect x="126.15" y="361.79999999999995" width="4.2" height="4.2" fill="#8a8ec6" stroke="#2d3570" stroke-width="0.7"/>
<text x="134.25" y="366.9" font-size="8.3" text-anchor="start" fill="#222" textLength="46" lengthAdjust="spacingAndGlyphs"  stroke="#222" stroke-width="0.25">CXCR5/PD-1</text>
<rect x="184.45" y="361.7" width="4.4" height="4.4" fill="#111"/>
<text x="192.05" y="366.9" font-size="8.3" text-anchor="start" fill="#222" textLength="20.8" lengthAdjust="spacingAndGlyphs"  stroke="#222" stroke-width="0.25">Naive</text>
<text x="132.8" y="455.2" font-size="9.3" text-anchor="start" fill="#222" textLength="17.3" lengthAdjust="spacingAndGlyphs"  stroke="#222" stroke-width="0.25">ICOS</text>
<text x="312.3" y="31.5" font-size="8.7" font-weight="bold" fill="#111" stroke="#111" stroke-width="0.3" text-anchor="middle" textLength="79.5" lengthAdjust="spacingAndGlyphs">CXCR5<tspan font-size="6.2" dy="-3.2">+</tspan><tspan dy="3.2"> PD-1</tspan><tspan font-size="6.2" dy="-3.2">+</tspan><tspan dy="3.2"> Cells</tspan></text>
<line x1="279.5" y1="38.7" x2="279.5" y2="105.6" stroke="#111" stroke-width="1.3"/>
<line x1="278.5" y1="105.5" x2="343.5" y2="105.5" stroke="#111" stroke-width="1.3"/>
<line x1="276.1" y1="40.5" x2="279.1" y2="40.5" stroke="#111" stroke-width="1.1"/>
<text x="272.70000000000005" y="43.5" font-size="8.6" text-anchor="end" fill="#333"  stroke="#333" stroke-width="0.25">30</text>
<line x1="276.1" y1="61.5" x2="279.1" y2="61.5" stroke="#111" stroke-width="1.1"/>
<text x="272.70000000000005" y="65.2" font-size="8.6" text-anchor="end" fill="#333"  stroke="#333" stroke-width="0.25">20</text>
<line x1="276.1" y1="83.5" x2="279.1" y2="83.5" stroke="#111" stroke-width="1.1"/>
<text x="272.70000000000005" y="86.8" font-size="8.6" text-anchor="end" fill="#333"  stroke="#333" stroke-width="0.25">10</text>
<line x1="276.1" y1="105.5" x2="279.1" y2="105.5" stroke="#111" stroke-width="1.1"/>
<text x="272.70000000000005" y="108.3" font-size="8.6" text-anchor="end" fill="#333"  stroke="#333" stroke-width="0.25">0</text>
<line x1="297.5" y1="105" x2="297.5" y2="107.5" stroke="#111" stroke-width="1.1"/>
<text x="297.5" y="118.8" font-size="8.6" text-anchor="middle" fill="#222"  stroke="#222" stroke-width="0.25">WT</text>
<line x1="325.5" y1="105" x2="325.5" y2="107.5" stroke="#111" stroke-width="1.1"/>
<text x="325.3" y="118.8" font-size="8.6" text-anchor="middle" fill="#222"  stroke="#222" stroke-width="0.25">tgRhoA</text>
<text x="257.6" y="71.2" font-size="10" text-anchor="middle" fill="#222" textLength="41.4" lengthAdjust="spacingAndGlyphs" transform="rotate(-90 257.6 71.2)"  stroke="#222" stroke-width="0.25">% CD4 cells</text>
<line x1="290.5" y1="45.5" x2="332.7" y2="45.5" stroke="#111" stroke-width="1.2"/>
<circle cx="309.65" cy="41.70" r="1.05" fill="#1a1a1a"/>
<circle cx="313.55" cy="41.70" r="1.05" fill="#1a1a1a"/>
<circle cx="293.3" cy="85.5" r="1.5" fill="#7f1830"/>
<circle cx="302.1" cy="86.4" r="1.5" fill="#7f1830"/>
<circle cx="297.4" cy="90.2" r="1.5" fill="#7f1830"/>
<line x1="293" y1="87.5" x2="302" y2="87.5" stroke="#7f1830" stroke-width="1.2"/>
<circle cx="323" cy="48.9" r="1.5" fill="#1f2a58"/>
<circle cx="327.5" cy="53.2" r="1.5" fill="#1f2a58"/>
<circle cx="325.4" cy="58.5" r="1.5" fill="#1f2a58"/>
<circle cx="322.8" cy="53.6" r="1.5" fill="#1f2a58"/>
<line x1="321.5" y1="53.5" x2="329" y2="53.5" stroke="#1f2a58" stroke-width="1.2"/>
<line x1="279.5" y1="145.0" x2="279.5" y2="211.2" stroke="#111" stroke-width="1.3"/>
<line x1="279.2" y1="210.5" x2="343.5" y2="210.5" stroke="#111" stroke-width="1.3"/>
<line x1="276.8" y1="146.5" x2="279.8" y2="146.5" stroke="#111" stroke-width="1.1"/>
<text x="273.40000000000003" y="149.8" font-size="8.6" text-anchor="end" fill="#333"  stroke="#333" stroke-width="0.25">6000</text>
<line x1="276.8" y1="167.5" x2="279.8" y2="167.5" stroke="#111" stroke-width="1.1"/>
<text x="273.40000000000003" y="171.20000000000002" font-size="8.6" text-anchor="end" fill="#333"  stroke="#333" stroke-width="0.25">4000</text>
<line x1="276.8" y1="189.5" x2="279.8" y2="189.5" stroke="#111" stroke-width="1.1"/>
<text x="273.40000000000003" y="192.5" font-size="8.6" text-anchor="end" fill="#333"  stroke="#333" stroke-width="0.25">2000</text>
<line x1="276.8" y1="210.5" x2="279.8" y2="210.5" stroke="#111" stroke-width="1.1"/>
<text x="273.40000000000003" y="213.9" font-size="8.6" text-anchor="end" fill="#333"  stroke="#333" stroke-width="0.25">0</text>
<line x1="297.5" y1="210.6" x2="297.5" y2="213.1" stroke="#111" stroke-width="1.1"/>
<text x="297.5" y="224.4" font-size="8.6" text-anchor="middle" fill="#222"  stroke="#222" stroke-width="0.25">WT</text>
<line x1="325.5" y1="210.6" x2="325.5" y2="213.1" stroke="#111" stroke-width="1.1"/>
<text x="325.3" y="224.4" font-size="8.6" text-anchor="middle" fill="#222"  stroke="#222" stroke-width="0.25">tgRhoA</text>
<text x="247.6" y="177" font-size="10" text-anchor="middle" fill="#222" textLength="33.7" lengthAdjust="spacingAndGlyphs" transform="rotate(-90 247.6 177)"  stroke="#222" stroke-width="0.25">MFI-ICOS</text>
<line x1="290" y1="148.5" x2="331.7" y2="148.5" stroke="#111" stroke-width="1.2"/>
<circle cx="310.85" cy="144.70" r="1.05" fill="#1a1a1a"/>
<circle cx="292.5" cy="187.3" r="1.4" fill="#7f1830"/>
<circle cx="295" cy="188.8" r="1.4" fill="#7f1830"/>
<circle cx="298.5" cy="189.5" r="1.4" fill="#7f1830"/>
<circle cx="301.5" cy="190.3" r="1.4" fill="#7f1830"/>
<circle cx="296.5" cy="190.8" r="1.4" fill="#7f1830"/>
<circle cx="300" cy="188.2" r="1.4" fill="#7f1830"/>
<line x1="297.5" y1="187.8" x2="297.5" y2="190.8" stroke="#2e1418" stroke-width="1.1"/>
<line x1="295" y1="187.5" x2="299" y2="187.5" stroke="#2e1418" stroke-width="1.1"/>
<line x1="295" y1="190.5" x2="299" y2="190.5" stroke="#2e1418" stroke-width="1.1"/>
<line x1="293.5" y1="189.5" x2="300.5" y2="189.5" stroke="#2e1418" stroke-width="1.2100000000000002"/>
<line x1="325.5" y1="158" x2="325.5" y2="178.4" stroke="#2a3458" stroke-width="1.1"/>
<line x1="323.0" y1="158.5" x2="327.4" y2="158.5" stroke="#2a3458" stroke-width="1.1"/>
<line x1="323.0" y1="178.5" x2="327.4" y2="178.5" stroke="#2a3458" stroke-width="1.1"/>
<line x1="322.0" y1="167.5" x2="328.4" y2="167.5" stroke="#2a3458" stroke-width="1.2100000000000002"/>
<polygon points="322.6,175.5 327.8,175.5 325.2,179.2" fill="#2a3458"/>
<circle cx="325.2" cy="158.5" r="1.2" fill="#2a3458"/>
<circle cx="325.2" cy="163" r="1.2" fill="#2a3458"/>
<circle cx="325.2" cy="171" r="1.2" fill="#2a3458"/>
<line x1="418.5" y1="28.5" x2="418.5" y2="105.89999999999999" stroke="#111" stroke-width="1.3"/>
<line x1="417.9" y1="105.5" x2="487.7" y2="105.5" stroke="#111" stroke-width="1.3"/>
<line x1="415.5" y1="30.5" x2="418.5" y2="30.5" stroke="#111" stroke-width="1.1"/>
<text x="412.1" y="33.3" font-size="8.6" text-anchor="end" fill="#333"  stroke="#333" stroke-width="0.25">20</text>
<line x1="415.5" y1="49.5" x2="418.5" y2="49.5" stroke="#111" stroke-width="1.1"/>
<text x="412.1" y="52.3" font-size="8.6" text-anchor="end" fill="#333"  stroke="#333" stroke-width="0.25">15</text>
<line x1="415.5" y1="67.5" x2="418.5" y2="67.5" stroke="#111" stroke-width="1.1"/>
<text x="412.1" y="71.1" font-size="8.6" text-anchor="end" fill="#333"  stroke="#333" stroke-width="0.25">10</text>
<line x1="415.5" y1="86.5" x2="418.5" y2="86.5" stroke="#111" stroke-width="1.1"/>
<text x="412.1" y="89.8" font-size="8.6" text-anchor="end" fill="#333"  stroke="#333" stroke-width="0.25">5</text>
<line x1="415.5" y1="105.5" x2="418.5" y2="105.5" stroke="#111" stroke-width="1.1"/>
<text x="412.1" y="108.6" font-size="8.6" text-anchor="end" fill="#333"  stroke="#333" stroke-width="0.25">0</text>
<line x1="440.5" y1="105.3" x2="440.5" y2="107.8" stroke="#111" stroke-width="1.1"/>
<text x="440.7" y="119.1" font-size="8.6" text-anchor="middle" fill="#222"  stroke="#222" stroke-width="0.25">WT</text>
<line x1="472.5" y1="105.3" x2="472.5" y2="107.8" stroke="#111" stroke-width="1.1"/>
<text x="472.4" y="119.1" font-size="8.6" text-anchor="middle" fill="#222"  stroke="#222" stroke-width="0.25">tgRhoA</text>
<text x="396.4" y="66.6" font-size="10" text-anchor="middle" fill="#222" textLength="24.7" lengthAdjust="spacingAndGlyphs" transform="rotate(-90 396.4 66.6)"  stroke="#222" stroke-width="0.25">mg/ml</text>
<line x1="435.6" y1="31.5" x2="478" y2="31.5" stroke="#111" stroke-width="1.2"/>
<text x="456.8" y="29.3" font-size="8.2" text-anchor="middle" fill="#333" stroke="#333" stroke-width="0.05">NS</text>
<circle cx="440.8" cy="75.5" r="1.5" fill="#7f1830"/>
<circle cx="437.2" cy="84.3" r="1.5" fill="#7f1830"/>
<circle cx="444.2" cy="80.2" r="1.5" fill="#7f1830"/>
<line x1="440.5" y1="75" x2="440.5" y2="84.8" stroke="#2e1418" stroke-width="1.1"/>
<line x1="438.3" y1="75.5" x2="443.09999999999997" y2="75.5" stroke="#2e1418" stroke-width="1.1"/>
<line x1="438.3" y1="84.5" x2="443.09999999999997" y2="84.5" stroke="#2e1418" stroke-width="1.1"/>
<line x1="437.09999999999997" y1="80.5" x2="444.3" y2="80.5" stroke="#2e1418" stroke-width="1.2100000000000002"/>
<circle cx="472.2" cy="47.3" r="1.5" fill="#1f2a58"/>
<circle cx="467.5" cy="78.5" r="1.5" fill="#1f2a58"/>
<circle cx="477.3" cy="79" r="1.5" fill="#1f2a58"/>
<circle cx="472.3" cy="82.5" r="1.5" fill="#1f2a58"/>
<line x1="472.5" y1="55.4" x2="472.5" y2="88.5" stroke="#1c1c24" stroke-width="1.1"/>
<line x1="470.0" y1="55.5" x2="474.79999999999995" y2="55.5" stroke="#1c1c24" stroke-width="1.1"/>
<line x1="470.0" y1="88.5" x2="474.79999999999995" y2="88.5" stroke="#1c1c24" stroke-width="1.1"/>
<line x1="468.59999999999997" y1="72.5" x2="476.2" y2="72.5" stroke="#1c1c24" stroke-width="1.2100000000000002"/>
<line x1="419.5" y1="135.1" x2="419.5" y2="211.1" stroke="#111" stroke-width="1.3"/>
<line x1="418.4" y1="210.5" x2="487.7" y2="210.5" stroke="#111" stroke-width="1.3"/>
<line x1="416" y1="136.5" x2="419" y2="136.5" stroke="#111" stroke-width="1.1"/>
<text x="412.6" y="139.9" font-size="8.6" text-anchor="end" fill="#333"  stroke="#333" stroke-width="0.25">800</text>
<line x1="416" y1="155.5" x2="419" y2="155.5" stroke="#111" stroke-width="1.1"/>
<text x="412.6" y="158.70000000000002" font-size="8.6" text-anchor="end" fill="#333"  stroke="#333" stroke-width="0.25">600</text>
<line x1="416" y1="173.5" x2="419" y2="173.5" stroke="#111" stroke-width="1.1"/>
<text x="412.6" y="177.10000000000002" font-size="8.6" text-anchor="end" fill="#333"  stroke="#333" stroke-width="0.25">400</text>
<line x1="416" y1="192.5" x2="419" y2="192.5" stroke="#111" stroke-width="1.1"/>
<text x="412.6" y="195.60000000000002" font-size="8.6" text-anchor="end" fill="#333"  stroke="#333" stroke-width="0.25">200</text>
<line x1="416" y1="210.5" x2="419" y2="210.5" stroke="#111" stroke-width="1.1"/>
<text x="412.6" y="213.8" font-size="8.6" text-anchor="end" fill="#333"  stroke="#333" stroke-width="0.25">0</text>
<line x1="440.5" y1="210.5" x2="440.5" y2="213.0" stroke="#111" stroke-width="1.1"/>
<text x="440.7" y="224.3" font-size="8.6" text-anchor="middle" fill="#222"  stroke="#222" stroke-width="0.25">WT</text>
<line x1="472.5" y1="210.5" x2="472.5" y2="213.0" stroke="#111" stroke-width="1.1"/>
<text x="472.4" y="224.3" font-size="8.6" text-anchor="middle" fill="#222"  stroke="#222" stroke-width="0.25">tgRhoA</text>
<text x="392.7" y="171.6" font-size="10" text-anchor="middle" fill="#222" textLength="77.5" lengthAdjust="spacingAndGlyphs" transform="rotate(-90 392.7 171.6)"  stroke="#222" stroke-width="0.25">dsDNA arbitrary units</text>
<line x1="435.8" y1="137.5" x2="478" y2="137.5" stroke="#111" stroke-width="1.2"/>
<circle cx="456.90" cy="133.90" r="1.05" fill="#1a1a1a"/>
<circle cx="437.3" cy="178.2" r="1.5" fill="#7f1830"/>
<circle cx="444" cy="180" r="1.5" fill="#7f1830"/>
<circle cx="440.7" cy="181.3" r="1.5" fill="#7f1830"/>
<line x1="440.5" y1="178.3" x2="440.5" y2="181.5" stroke="#2e1418" stroke-width="1.1"/>
<line x1="438.5" y1="178.5" x2="442.9" y2="178.5" stroke="#2e1418" stroke-width="1.1"/>
<line x1="438.5" y1="181.5" x2="442.9" y2="181.5" stroke="#2e1418" stroke-width="1.1"/>
<line x1="437.09999999999997" y1="180.5" x2="444.3" y2="180.5" stroke="#2e1418" stroke-width="1.2100000000000002"/>
<circle cx="472.2" cy="144.4" r="1.5" fill="#1f2a58"/>
<circle cx="467.5" cy="165" r="1.5" fill="#1f2a58"/>
<circle cx="476.9" cy="165" r="1.5" fill="#1f2a58"/>
<circle cx="472.3" cy="165.3" r="1.5" fill="#1f2a58"/>
<line x1="472.5" y1="149.8" x2="472.5" y2="170.6" stroke="#1c1c24" stroke-width="1.1"/>
<line x1="470.0" y1="149.5" x2="474.79999999999995" y2="149.5" stroke="#1c1c24" stroke-width="1.1"/>
<line x1="470.0" y1="170.5" x2="474.79999999999995" y2="170.5" stroke="#1c1c24" stroke-width="1.1"/>
<line x1="468.59999999999997" y1="160.5" x2="476.2" y2="160.5" stroke="#1c1c24" stroke-width="1.2100000000000002"/>
<text x="311.5" y="266.1" font-size="8.7" font-weight="bold" fill="#111" stroke="#111" stroke-width="0.3" text-anchor="middle" textLength="79.5" lengthAdjust="spacingAndGlyphs">CXCR5<tspan font-size="6.2" dy="-3.2">+</tspan><tspan dy="3.2"> PD-1</tspan><tspan font-size="6.2" dy="-3.2">+</tspan><tspan dy="3.2"> Cells</tspan></text>
<line x1="279.5" y1="273.0" x2="279.5" y2="339.40000000000003" stroke="#111" stroke-width="1.3"/>
<line x1="278.4" y1="338.5" x2="343.5" y2="338.5" stroke="#111" stroke-width="1.3"/>
<line x1="276" y1="274.5" x2="279" y2="274.5" stroke="#111" stroke-width="1.1"/>
<text x="272.6" y="277.8" font-size="8.6" text-anchor="end" fill="#333"  stroke="#333" stroke-width="0.25">60</text>
<line x1="276" y1="296.5" x2="279" y2="296.5" stroke="#111" stroke-width="1.1"/>
<text x="272.6" y="299.40000000000003" font-size="8.6" text-anchor="end" fill="#333"  stroke="#333" stroke-width="0.25">40</text>
<line x1="276" y1="317.5" x2="279" y2="317.5" stroke="#111" stroke-width="1.1"/>
<text x="272.6" y="320.8" font-size="8.6" text-anchor="end" fill="#333"  stroke="#333" stroke-width="0.25">20</text>
<line x1="276" y1="338.5" x2="279" y2="338.5" stroke="#111" stroke-width="1.1"/>
<text x="272.6" y="342.1" font-size="8.6" text-anchor="end" fill="#333"  stroke="#333" stroke-width="0.25">0</text>
<line x1="297.5" y1="338.8" x2="297.5" y2="341.3" stroke="#111" stroke-width="1.1"/>
<text x="297.7" y="352.6" font-size="8.6" text-anchor="middle" fill="#222"  stroke="#222" stroke-width="0.25">WT</text>
<line x1="324.5" y1="338.8" x2="324.5" y2="341.3" stroke="#111" stroke-width="1.1"/>
<text x="324.7" y="352.6" font-size="8.6" text-anchor="middle" fill="#222"  stroke="#222" stroke-width="0.25">tgRhoA</text>
<text x="257.4" y="305.4" font-size="10" text-anchor="middle" fill="#222" textLength="40.1" lengthAdjust="spacingAndGlyphs" transform="rotate(-90 257.4 305.4)"  stroke="#222" stroke-width="0.25">% CD4 cells</text>
<line x1="292" y1="279.5" x2="334.6" y2="279.5" stroke="#111" stroke-width="1.2"/>
<circle cx="311.35" cy="276.40" r="1.05" fill="#1a1a1a"/>
<circle cx="315.25" cy="276.40" r="1.05" fill="#1a1a1a"/>
<circle cx="297.5" cy="317.1" r="1.5" fill="#7f1830"/>
<circle cx="299.8" cy="322.4" r="1.5" fill="#7f1830"/>
<circle cx="295.2" cy="324.9" r="1.5" fill="#7f1830"/>
<line x1="293.6" y1="321.5" x2="300.4" y2="321.5" stroke="#7f1830" stroke-width="1.2"/>
<circle cx="324.9" cy="287.2" r="1.5" fill="#1f2a58"/>
<circle cx="325.5" cy="294.4" r="1.5" fill="#1f2a58"/>
<circle cx="326.8" cy="304.6" r="1.5" fill="#1f2a58"/>
<circle cx="323" cy="307.1" r="1.5" fill="#1f2a58"/>
<line x1="321.6" y1="298.5" x2="329.4" y2="298.5" stroke="#1f2a58" stroke-width="1.2"/>
<line x1="279.5" y1="376.0" x2="279.5" y2="442.70000000000005" stroke="#111" stroke-width="1.3"/>
<line x1="278.4" y1="442.5" x2="343.5" y2="442.5" stroke="#111" stroke-width="1.3"/>
<line x1="276" y1="377.5" x2="279" y2="377.5" stroke="#111" stroke-width="1.1"/>
<text x="272.6" y="380.8" font-size="8.6" text-anchor="end" fill="#333"  stroke="#333" stroke-width="0.25">15000</text>
<line x1="276" y1="399.5" x2="279" y2="399.5" stroke="#111" stroke-width="1.1"/>
<text x="272.6" y="402.40000000000003" font-size="8.6" text-anchor="end" fill="#333"  stroke="#333" stroke-width="0.25">10000</text>
<line x1="276" y1="420.5" x2="279" y2="420.5" stroke="#111" stroke-width="1.1"/>
<text x="272.6" y="424.1" font-size="8.6" text-anchor="end" fill="#333"  stroke="#333" stroke-width="0.25">5000</text>
<line x1="276" y1="442.5" x2="279" y2="442.5" stroke="#111" stroke-width="1.1"/>
<text x="272.6" y="445.40000000000003" font-size="8.6" text-anchor="end" fill="#333"  stroke="#333" stroke-width="0.25">0</text>
<line x1="297.5" y1="442.1" x2="297.5" y2="444.6" stroke="#111" stroke-width="1.1"/>
<text x="297.7" y="455.90000000000003" font-size="8.6" text-anchor="middle" fill="#222"  stroke="#222" stroke-width="0.25">WT</text>
<line x1="324.5" y1="442.1" x2="324.5" y2="444.6" stroke="#111" stroke-width="1.1"/>
<text x="324.7" y="455.90000000000003" font-size="8.6" text-anchor="middle" fill="#222"  stroke="#222" stroke-width="0.25">tgRhoA</text>
<text x="242.8" y="408.2" font-size="10" text-anchor="middle" fill="#222" textLength="33" lengthAdjust="spacingAndGlyphs" transform="rotate(-90 242.8 408.2)"  stroke="#222" stroke-width="0.25">MFI-ICOS</text>
<line x1="290.8" y1="384.5" x2="333.2" y2="384.5" stroke="#111" stroke-width="1.2"/>
<circle cx="312.00" cy="381.40" r="1.05" fill="#1a1a1a"/>
<circle cx="293" cy="429.5" r="1.4" fill="#7f1830"/>
<circle cx="296" cy="431.5" r="1.4" fill="#7f1830"/>
<circle cx="299" cy="430" r="1.4" fill="#7f1830"/>
<circle cx="302" cy="430.8" r="1.4" fill="#7f1830"/>
<circle cx="297.5" cy="432.5" r="1.4" fill="#7f1830"/>
<circle cx="294.5" cy="431" r="1.4" fill="#7f1830"/>
<line x1="293.5" y1="430.5" x2="301.5" y2="430.5" stroke="#7f1830" stroke-width="1.1"/>
<circle cx="325.2" cy="398" r="1.5" fill="#1f2a58"/>
<circle cx="323" cy="422.2" r="1.5" fill="#1f2a58"/>
<circle cx="327.3" cy="419" r="1.5" fill="#1f2a58"/>
<line x1="325.5" y1="402.6" x2="325.5" y2="423.8" stroke="#2a2f40" stroke-width="1.1"/>
<line x1="322.90000000000003" y1="402.5" x2="327.7" y2="402.5" stroke="#2a2f40" stroke-width="1.1"/>
<line x1="322.90000000000003" y1="423.5" x2="327.7" y2="423.5" stroke="#2a2f40" stroke-width="1.1"/>
<line x1="321.90000000000003" y1="413.5" x2="328.7" y2="413.5" stroke="#2a2f40" stroke-width="1.2100000000000002"/>
<line x1="413.5" y1="375.3" x2="413.5" y2="443.0" stroke="#111" stroke-width="1.3"/>
<line x1="412.7" y1="442.5" x2="512.5" y2="442.5" stroke="#111" stroke-width="1.3"/>
<line x1="410.3" y1="376.5" x2="413.3" y2="376.5" stroke="#111" stroke-width="1.1"/>
<text x="406.90000000000003" y="380.1" font-size="8.6" text-anchor="end" fill="#333"  stroke="#333" stroke-width="0.25">15</text>
<line x1="410.3" y1="398.5" x2="413.3" y2="398.5" stroke="#111" stroke-width="1.1"/>
<text x="406.90000000000003" y="401.90000000000003" font-size="8.6" text-anchor="end" fill="#333"  stroke="#333" stroke-width="0.25">10</text>
<line x1="410.3" y1="420.5" x2="413.3" y2="420.5" stroke="#111" stroke-width="1.1"/>
<text x="406.90000000000003" y="423.90000000000003" font-size="8.6" text-anchor="end" fill="#333"  stroke="#333" stroke-width="0.25">5</text>
<line x1="410.3" y1="442.5" x2="413.3" y2="442.5" stroke="#111" stroke-width="1.1"/>
<text x="406.90000000000003" y="445.7" font-size="8.6" text-anchor="end" fill="#333"  stroke="#333" stroke-width="0.25">0</text>
<line x1="441.5" y1="442.4" x2="441.5" y2="444.9" stroke="#111" stroke-width="1.1"/>
<text x="441.9" y="456.2" font-size="8.6" text-anchor="middle" fill="#222"  stroke="#222" stroke-width="0.25">WT</text>
<line x1="484.5" y1="442.4" x2="484.5" y2="444.9" stroke="#111" stroke-width="1.1"/>
<text x="484.2" y="456.2" font-size="8.6" text-anchor="middle" fill="#222"  stroke="#222" stroke-width="0.25">tgRhoA</text>
<text x="378.6" y="409.5" font-size="10" text-anchor="middle" fill="#222" textLength="53.2" lengthAdjust="spacingAndGlyphs" transform="rotate(-90 378.6 409.5)"  stroke="#222" stroke-width="0.25">IgG deposition</text>
<text x="388.6" y="408.6" font-size="10" text-anchor="middle" fill="#222" textLength="48" lengthAdjust="spacingAndGlyphs" transform="rotate(-90 388.6 408.6)"  stroke="#222" stroke-width="0.25">arbitrary units</text>
<line x1="432" y1="376.5" x2="489.6" y2="376.5" stroke="#111" stroke-width="1.2"/>
<circle cx="460.80" cy="372.90" r="1.05" fill="#1a1a1a"/>
<circle cx="441.9" cy="416.8" r="1.5" fill="#7f1830"/>
<circle cx="441.9" cy="429.7" r="1.5" fill="#7f1830"/>
<line x1="441.5" y1="420" x2="441.5" y2="427.1" stroke="#2e1418" stroke-width="1.1"/>
<line x1="438.5" y1="420.5" x2="445.29999999999995" y2="420.5" stroke="#2e1418" stroke-width="1.1"/>
<line x1="438.5" y1="427.5" x2="445.29999999999995" y2="427.5" stroke="#2e1418" stroke-width="1.1"/>
<line x1="437.09999999999997" y1="423.5" x2="446.7" y2="423.5" stroke="#2e1418" stroke-width="1.2100000000000002"/>
<circle cx="483.8" cy="380.8" r="1.5" fill="#1f2a58"/>
<circle cx="483.8" cy="410.8" r="1.5" fill="#1f2a58"/>
<circle cx="481.5" cy="404" r="1.5" fill="#1f2a58"/>
<circle cx="486.3" cy="404" r="1.5" fill="#1f2a58"/>
<line x1="484.5" y1="394" x2="484.5" y2="406.5" stroke="#1c1c24" stroke-width="1.1"/>
<line x1="480.8" y1="394.5" x2="487.2" y2="394.5" stroke="#1c1c24" stroke-width="1.1"/>
<line x1="480.8" y1="406.5" x2="487.2" y2="406.5" stroke="#1c1c24" stroke-width="1.1"/>
<line x1="479.2" y1="400.5" x2="488.8" y2="400.5" stroke="#1c1c24" stroke-width="1.2100000000000002"/>
<filter id="jtexA" color-interpolation-filters="sRGB" x="0" y="0" width="100%" height="100%">
 <feTurbulence type="turbulence" baseFrequency="0.085" numOctaves="3" seed="4" result="n"/>
 <feColorMatrix in="n" type="matrix" values="0 0 0 0 0.27  0 0 0 0 0.47  0 0 0 0 0.29  -5 0 0 0 0.95"/><feGaussianBlur stdDeviation="0.5"/>
</filter>
<filter id="jtexB" color-interpolation-filters="sRGB" x="0" y="0" width="100%" height="100%">
 <feTurbulence type="turbulence" baseFrequency="0.085" numOctaves="3" seed="11" result="n"/>
 <feColorMatrix in="n" type="matrix" values="0 0 0 0 0.3  0 0 0 0 0.56  0 0 0 0 0.31  -5 0 0 0 1.05"/><feGaussianBlur stdDeviation="0.5"/>
</filter>
<filter id="jdark" color-interpolation-filters="sRGB" x="0" y="0" width="100%" height="100%">
 <feTurbulence type="fractalNoise" baseFrequency="0.14" numOctaves="2" seed="23" result="n"/>
 <feColorMatrix in="n" type="matrix" values="0 0 0 0 0.04  0 0 0 0 0.07  0 0 0 0 0.05  3.2 0 0 0 -1.15"/>
</filter>
<filter id="jspk" color-interpolation-filters="sRGB" x="0" y="0" width="100%" height="100%">
 <feTurbulence type="fractalNoise" baseFrequency="0.5" numOctaves="2" seed="5" result="n"/>
 <feColorMatrix in="n" type="matrix" values="0 0 0 0 0.3  0 0 0 0 0.5  0 0 0 0 0.3  2.5 0 0 0 -0.9"/>
</filter>
<filter id="pblur" color-interpolation-filters="sRGB" x="-50%" y="-50%" width="200%" height="200%">
 <feGaussianBlur in="SourceGraphic" stdDeviation="2.0" result="b"/>
 <feTurbulence type="fractalNoise" baseFrequency="0.45" numOctaves="2" seed="31" result="n"/>
 <feColorMatrix in="n" type="matrix" values="0 0 0 0 0  0 0 0 0 0  0 0 0 0 0  2.4 0 0 0 -0.3" result="m"/>
 <feComposite in="b" in2="m" operator="in"/>
</filter>

<clipPath id="mclip371"><rect x="371" y="272.3" width="64.8" height="64.8"/></clipPath>
<g clip-path="url(#mclip371)">
<rect x="371" y="272.3" width="64.8" height="64.8" fill="#132016"/>
<rect x="371" y="272.3" width="64.8" height="64.8" filter="url(#jdark)"/>
<g filter="url(#pblur)">
<ellipse cx="403.7" cy="282.3" rx="4.2" ry="5.5" fill="#62dc66" opacity="0.76"/>
<ellipse cx="408.4" cy="281.5" rx="4.9" ry="5.2" fill="#62dc66" opacity="0.76"/>
<ellipse cx="401.8" cy="283.9" rx="4.1" ry="5.1" fill="#62dc66" opacity="0.76"/>
<ellipse cx="406.7" cy="282.1" rx="3.2" ry="3.9" fill="#62dc66" opacity="0.76"/>
<ellipse cx="414.2" cy="305.2" rx="3.4" ry="2.8" fill="#62dc66" opacity="0.68"/>
<ellipse cx="416.0" cy="301.4" rx="4.0" ry="3.8" fill="#62dc66" opacity="0.68"/>
<ellipse cx="418.9" cy="304.2" rx="3.7" ry="3.9" fill="#62dc66" opacity="0.68"/>
<ellipse cx="415.2" cy="300.8" rx="3.2" ry="3.4" fill="#62dc66" opacity="0.68"/>
<ellipse cx="397.2" cy="321.6" rx="3.6" ry="5.2" fill="#62dc66" opacity="0.72"/>
<ellipse cx="397.3" cy="322.2" rx="3.7" ry="4.2" fill="#62dc66" opacity="0.72"/>
<ellipse cx="393.0" cy="322.1" rx="3.7" ry="4.5" fill="#62dc66" opacity="0.72"/>
<ellipse cx="394.9" cy="324.1" rx="3.6" ry="4.1" fill="#62dc66" opacity="0.72"/>
<ellipse cx="431.7" cy="289.8" rx="1.7" ry="3.0" fill="#62dc66" opacity="0.56"/>
<ellipse cx="434.1" cy="292.4" rx="2.0" ry="2.5" fill="#62dc66" opacity="0.56"/>
<ellipse cx="434.2" cy="290.9" rx="1.7" ry="3.5" fill="#62dc66" opacity="0.56"/>
<ellipse cx="432.9" cy="289.9" rx="1.5" ry="2.4" fill="#62dc66" opacity="0.56"/>
<ellipse cx="384.9" cy="300.6" rx="2.9" ry="3.4" fill="#62dc66" opacity="0.28"/>
<ellipse cx="383.8" cy="297.9" rx="2.4" ry="3.2" fill="#62dc66" opacity="0.28"/>
<ellipse cx="385.2" cy="298.0" rx="3.2" ry="2.6" fill="#62dc66" opacity="0.28"/>
<ellipse cx="386.1" cy="298.2" rx="3.1" ry="2.4" fill="#62dc66" opacity="0.28"/>
<ellipse cx="423.0" cy="316.7" rx="2.5" ry="2.6" fill="#62dc66" opacity="0.24"/>
<ellipse cx="427.1" cy="316.5" rx="2.8" ry="2.3" fill="#62dc66" opacity="0.24"/>
<ellipse cx="422.7" cy="320.3" rx="2.7" ry="2.5" fill="#62dc66" opacity="0.24"/>
<ellipse cx="424.7" cy="317.7" rx="2.8" ry="3.2" fill="#62dc66" opacity="0.24"/>
<ellipse cx="378.6" cy="331.6" rx="2.8" ry="2.7" fill="#62dc66" opacity="0.24"/>
<ellipse cx="381.3" cy="329.6" rx="3.0" ry="2.8" fill="#62dc66" opacity="0.24"/>
<ellipse cx="380.7" cy="328.0" rx="3.1" ry="2.4" fill="#62dc66" opacity="0.24"/>
<ellipse cx="379.4" cy="329.2" rx="3.1" ry="2.1" fill="#62dc66" opacity="0.24"/>
</g>
<rect x="371" y="272.3" width="64.8" height="64.8" filter="url(#jtexA)"/>
<rect x="371" y="272.3" width="64.8" height="64.8" filter="url(#jspk)" opacity="0.3"/>
</g>
<text x="375.5" y="282.3" font-size="7.8" text-anchor="start" fill="#fff" font-weight="bold" textLength="9.7" lengthAdjust="spacingAndGlyphs" >WT</text>
<rect x="423" y="334" width="10.699999999999989" height="2" fill="#fff"/>
<clipPath id="mclip438"><rect x="438.8" y="272.3" width="65.2" height="64.8"/></clipPath>
<g clip-path="url(#mclip438)">
<rect x="438.8" y="272.3" width="65.2" height="64.8" fill="#132016"/>
<rect x="438.8" y="272.3" width="65.2" height="64.8" filter="url(#jdark)"/>
<g filter="url(#pblur)">
<ellipse cx="489.1" cy="288.0" rx="6.7" ry="8.3" fill="#62dc66" opacity="0.80"/>
<ellipse cx="489.9" cy="288.2" rx="4.6" ry="5.9" fill="#62dc66" opacity="0.80"/>
<ellipse cx="490.8" cy="283.5" rx="4.6" ry="8.7" fill="#62dc66" opacity="0.80"/>
<ellipse cx="488.4" cy="286.7" rx="6.6" ry="7.0" fill="#62dc66" opacity="0.80"/>
<ellipse cx="488.6" cy="318.2" rx="4.7" ry="8.0" fill="#62dc66" opacity="0.76"/>
<ellipse cx="485.5" cy="316.8" rx="5.4" ry="6.0" fill="#62dc66" opacity="0.76"/>
<ellipse cx="486.7" cy="324.5" rx="5.9" ry="7.3" fill="#62dc66" opacity="0.76"/>
<ellipse cx="486.3" cy="321.7" rx="5.2" ry="6.8" fill="#62dc66" opacity="0.76"/>
<ellipse cx="468.8" cy="311.7" rx="1.9" ry="6.9" fill="#62dc66" opacity="0.68"/>
<ellipse cx="468.8" cy="311.6" rx="2.2" ry="6.3" fill="#62dc66" opacity="0.68"/>
<ellipse cx="466.3" cy="312.4" rx="2.2" ry="5.3" fill="#62dc66" opacity="0.68"/>
<ellipse cx="467.5" cy="312.5" rx="2.7" ry="6.5" fill="#62dc66" opacity="0.68"/>
<ellipse cx="449.4" cy="322.4" rx="3.7" ry="4.0" fill="#62dc66" opacity="0.48"/>
<ellipse cx="448.9" cy="327.1" rx="4.7" ry="4.3" fill="#62dc66" opacity="0.48"/>
<ellipse cx="451.3" cy="327.1" rx="5.5" ry="3.9" fill="#62dc66" opacity="0.48"/>
<ellipse cx="451.5" cy="327.8" rx="4.8" ry="5.0" fill="#62dc66" opacity="0.48"/>
<ellipse cx="449.5" cy="288.5" rx="5.4" ry="5.2" fill="#62dc66" opacity="0.28"/>
<ellipse cx="453.4" cy="287.6" rx="4.9" ry="4.8" fill="#62dc66" opacity="0.28"/>
<ellipse cx="449.8" cy="289.3" rx="4.1" ry="5.3" fill="#62dc66" opacity="0.28"/>
<ellipse cx="454.8" cy="291.4" rx="4.0" ry="6.6" fill="#62dc66" opacity="0.28"/>
<ellipse cx="474.9" cy="294.9" rx="3.3" ry="3.1" fill="#62dc66" opacity="0.24"/>
<ellipse cx="472.8" cy="296.7" rx="2.7" ry="2.5" fill="#62dc66" opacity="0.24"/>
<ellipse cx="477.1" cy="297.2" rx="3.5" ry="3.4" fill="#62dc66" opacity="0.24"/>
<ellipse cx="476.9" cy="294.2" rx="3.2" ry="2.7" fill="#62dc66" opacity="0.24"/>
<ellipse cx="499.4" cy="308.3" rx="2.0" ry="3.7" fill="#62dc66" opacity="0.48"/>
<ellipse cx="501.8" cy="301.5" rx="2.6" ry="4.3" fill="#62dc66" opacity="0.48"/>
<ellipse cx="501.3" cy="307.8" rx="2.2" ry="4.3" fill="#62dc66" opacity="0.48"/>
<ellipse cx="500.1" cy="302.0" rx="2.2" ry="3.9" fill="#62dc66" opacity="0.48"/>
</g>
<rect x="438.8" y="272.3" width="65.2" height="64.8" filter="url(#jtexB)"/>
<rect x="438.8" y="272.3" width="65.2" height="64.8" filter="url(#jspk)" opacity="0.3"/>
</g>
<text x="443.3" y="282.3" font-size="7.8" text-anchor="start" fill="#fff" font-weight="bold" textLength="22.9" lengthAdjust="spacingAndGlyphs" >tgRhoA</text>
<rect x="491.2" y="334" width="9.800000000000011" height="2" fill="#fff"/>
<path d="M0 0H520V466H0Z M1.5 1.5V464.5H518.3V1.5Z" fill="#000" fill-rule="evenodd"/>
</svg>
</body></html>
